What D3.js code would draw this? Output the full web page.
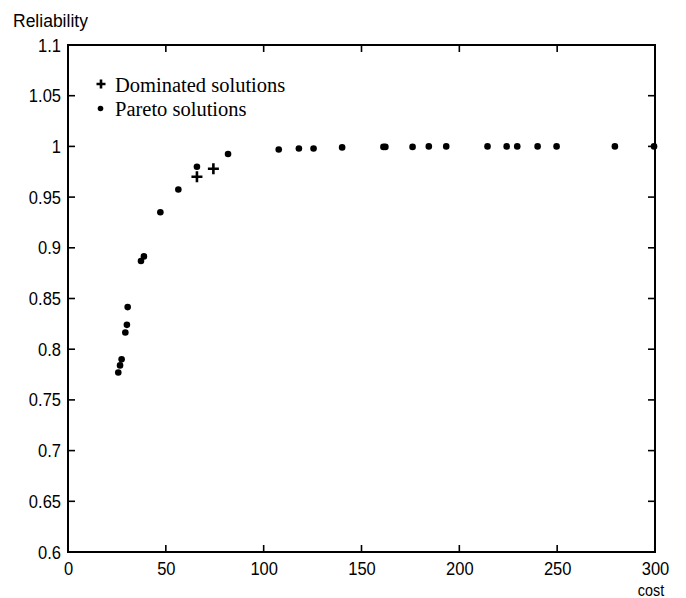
<!DOCTYPE html>
<html>
<head>
<meta charset="utf-8">
<script src="https://cdn.jsdelivr.net/npm/d3@7.9.0/dist/d3.min.js"></script>
<style>
  body { margin: 0; background: #fff; }
  svg { display: block; }
</style>
</head>
<body>
<svg id="chart" width="686" height="598"></svg>
<script>
// Pareto solutions (cost, reliability)
const paretoCost = [25.7, 26.6, 27.4, 29.3, 30.1, 30.5, 37.3, 38.8, 47.2, 56.4, 65.9, 81.8,
  107.7, 118, 125.5, 140.1, 161.2, 162.2, 176.1, 184.4, 193.3, 214.4, 224.2, 229.6, 240, 249.7, 279.5, 299.5];
const paretoRel = [0.777, 0.784, 0.790, 0.8165, 0.824, 0.8415, 0.887, 0.8915, 0.935, 0.9575, 0.980, 0.9925,
  0.997, 0.998, 0.998, 0.999, 0.9995, 0.9995, 0.9995, 1.0, 1.0, 1.0, 1.0, 1.0, 1.0, 1.0, 1.0, 1.0];

// Dominated solutions
const domCost = [65.9, 74.3];
const domRel = [0.970, 0.978];

const xTicks = [0, 50, 100, 150, 200, 250, 300];
const yTicks = [0.6, 0.65, 0.7, 0.75, 0.8, 0.85, 0.9, 0.95, 1, 1.05, 1.1];

const svg = d3.select('#chart');
const plotLeft = 68, plotRight = 655, plotTop = 45, plotBottom = 552;
const tickLen = 7;

const x = d3.scaleLinear().domain([0, 300]).range([plotLeft, plotRight]);
const y = d3.scaleLinear().domain([0.6, 1.1]).range([plotBottom, plotTop]);

const tickFont = '"Liberation Sans", Arial, sans-serif';
const squeeze = 0.87; // matlab tick labels look narrow

// bottom axis labels
svg.append('g')
    .attr('transform', `translate(0,${plotBottom})`)
    .call(d3.axisBottom(x).tickValues(xTicks).tickFormat(d3.format('d')).tickSize(0).tickPadding(10))
    .call(g => g.select('.domain').remove())
    .call(g => g.selectAll('text')
        .attr('font-family', tickFont).attr('font-size', 19).attr('fill', '#000')
        .attr('transform', `scale(${squeeze},1)`));

// left axis labels
svg.append('g')
    .attr('transform', `translate(${plotLeft},0)`)
    .call(d3.axisLeft(y).tickValues(yTicks).tickFormat(d => String(+d.toFixed(2))).tickSize(0))
    .call(g => g.select('.domain').remove())
    .call(g => g.selectAll('text')
        .attr('font-family', tickFont).attr('font-size', 19).attr('fill', '#000')
        .attr('x', -7 / squeeze)
        .attr('transform', `scale(${squeeze},1)`));

// inward tick marks on all four sides
const ticks = svg.append('g').attr('stroke', '#000').attr('stroke-width', 1.6);
ticks.selectAll('line.xb').data(xTicks).join('line').attr('class', 'xb')
    .attr('x1', d => x(d)).attr('x2', d => x(d))
    .attr('y1', plotBottom).attr('y2', plotBottom - tickLen);
ticks.selectAll('line.xt').data(xTicks).join('line').attr('class', 'xt')
    .attr('x1', d => x(d)).attr('x2', d => x(d))
    .attr('y1', plotTop).attr('y2', plotTop + tickLen);
ticks.selectAll('line.yl').data(yTicks).join('line').attr('class', 'yl')
    .attr('y1', d => y(d)).attr('y2', d => y(d))
    .attr('x1', plotLeft).attr('x2', plotLeft + tickLen);
ticks.selectAll('line.yr').data(yTicks).join('line').attr('class', 'yr')
    .attr('y1', d => y(d)).attr('y2', d => y(d))
    .attr('x1', plotRight).attr('x2', plotRight - tickLen);

// frame
svg.append('rect')
    .attr('x', plotLeft).attr('y', plotTop)
    .attr('width', plotRight - plotLeft).attr('height', plotBottom - plotTop)
    .attr('fill', 'none').attr('stroke', '#000').attr('stroke-width', 2);

// axis labels
svg.append('text').attr('x', 13).attr('y', 27)
    .attr('font-family', tickFont).attr('font-size', 17.5).text('Reliability');
svg.append('text')
    .attr('transform', `translate(651,596) scale(${squeeze},1)`)
    .attr('text-anchor', 'middle')
    .attr('font-family', tickFont).attr('font-size', 16.5).text('cost');

// pareto dots
svg.append('g').selectAll('circle')
    .data(d3.range(paretoCost.length))
    .join('circle')
    .attr('cx', i => x(paretoCost[i]))
    .attr('cy', i => y(paretoRel[i]))
    .attr('r', 3.3)
    .attr('fill', '#000');

// dominated plus markers
function drawPlus(g, cx, cy, h) {
  g.append('path')
    .attr('d', `M${cx - h},${cy}H${cx + h}M${cx},${cy - h}V${cy + h}`)
    .attr('stroke', '#000').attr('stroke-width', 2.6).attr('fill', 'none');
}
const domG = svg.append('g');
domCost.forEach((c, i) => drawPlus(domG, x(c), y(domRel[i]), 5.5));

// legend
const legendFont = '"Liberation Serif", "Times New Roman", serif';
const leg = svg.append('g');
drawPlus(leg, 101, 84, 4.5);
leg.append('text').attr('x', 115).attr('y', 91.5)
    .attr('font-family', legendFont).attr('font-size', 20.5).text('Dominated solutions');
leg.append('circle').attr('cx', 100.5).attr('cy', 108.5).attr('r', 2.8).attr('fill', '#000');
leg.append('text').attr('x', 115).attr('y', 115.5)
    .attr('font-family', legendFont).attr('font-size', 20.5).text('Pareto solutions');
</script>
</body>
</html>
